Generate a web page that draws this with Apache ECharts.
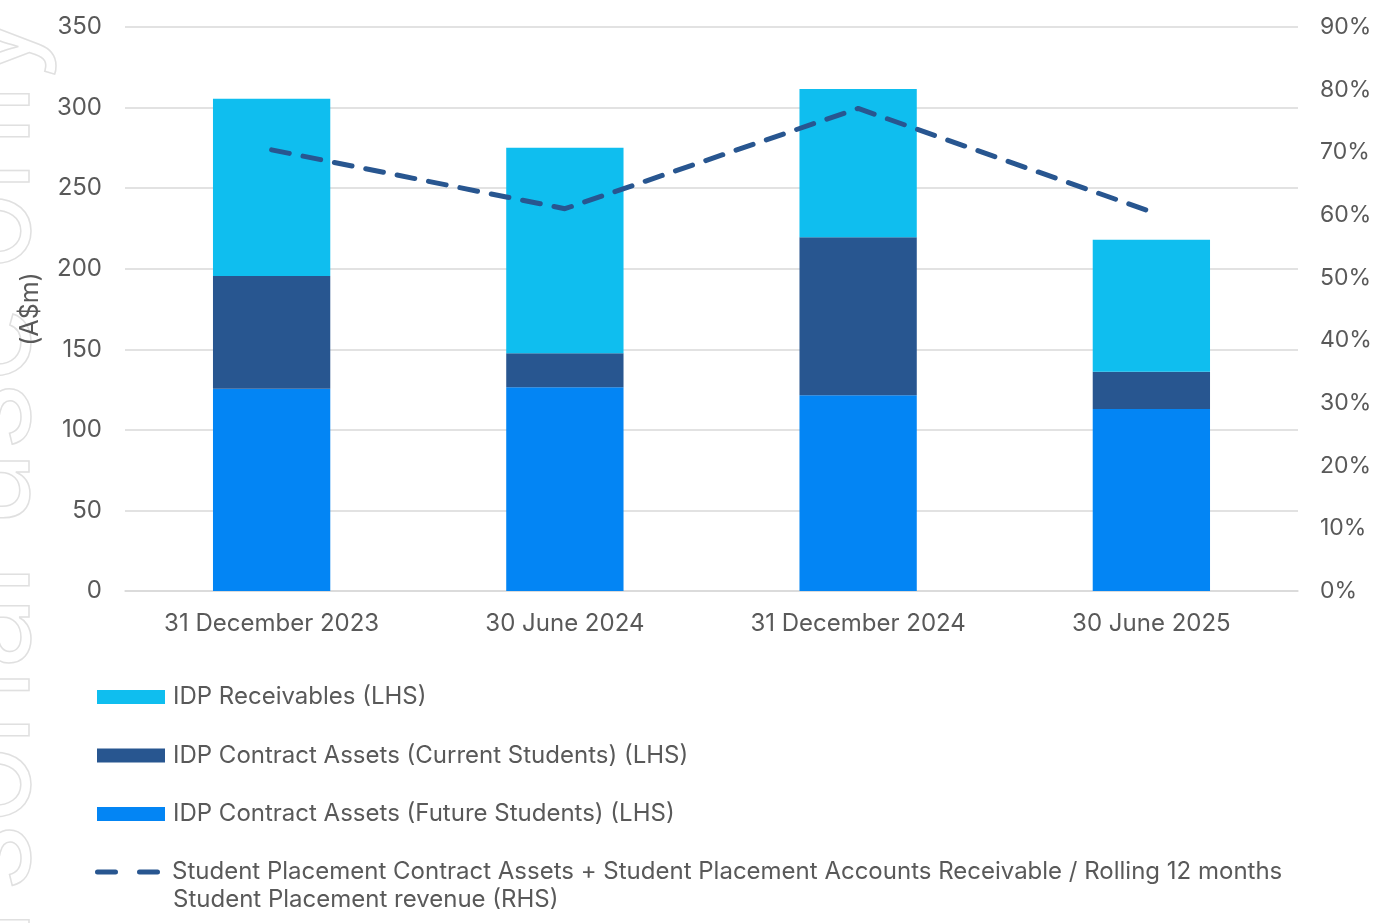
<!DOCTYPE html>
<html>
<head>
<meta charset="utf-8">
<script src="https://cdn.jsdelivr.net/npm/echarts@6/dist/echarts.min.js"></script>
<style>
  html, body { margin: 0; padding: 0; background: #fff; }
  #chart { width: 1383px; height: 923px; }
</style>
</head>
<body>
<div id="chart"></div>
<script>
var categories = ['31 December 2023', '30 June 2024', '31 December 2024', '30 June 2025'];
var futureStudents = [125.5, 126.5, 121.5, 113];
var currentStudents = [70, 21, 98, 23];
var receivables = [110, 127.5, 92, 82];
var placementRatio = [70.4, 61.0, 77.0, 60.5];
var leftTicks = [0, 350, 50];
var rightTicks = [0, 90, 10];

var lineName = 'Student Placement Contract Assets + Student Placement Accounts Receivable / Rolling 12 months Student Placement revenue (RHS)';
var lineLine1 = 'Student Placement Contract Assets + Student Placement Accounts Receivable / Rolling 12 months';
var lineLine2 = 'Student Placement revenue (RHS)';

var font = 'Inter, "Noto Sans", sans-serif';
var grey = '#595959';
// two rounded dashes for the line legend
var dashIcon = 'path://M2.5,0 H20.5 A2.5,2.5 0 0 1 20.5,5 H2.5 A2.5,2.5 0 0 1 2.5,0 Z M44.5,0 H62.5 A2.5,2.5 0 0 1 62.5,5 H44.5 A2.5,2.5 0 0 1 44.5,0 Z';

var myChart = echarts.init(document.getElementById('chart'));
var option = {
    animation: false,
    textStyle: { fontFamily: font },
    grid: { left: 125, right: 85, top: 27, bottom: 332 },
    legend: [{
        orient: 'vertical',
        left: 92,
        top: 680,
        icon: 'rect',
        itemWidth: 68,
        itemHeight: 14,
        itemGap: 34.5,
        textStyle: { color: grey, fontSize: 24, padding: [0, 0, 0, 3] },
        data: ['IDP Receivables (LHS)', 'IDP Contract Assets (Current Students) (LHS)', 'IDP Contract Assets (Future Students) (LHS)']
    }, {
        left: 90,
        top: 855,
        itemWidth: 65,
        itemHeight: 5,
        textStyle: { color: grey, fontSize: 24, padding: [0, 0, 0, 7] },
        formatter: function () { return lineLine1; },
        data: [{ name: lineName, icon: dashIcon, itemStyle: { color: '#285690' } }]
    }],
    graphic: [{
        type: 'text',
        left: 173,
        top: 888,
        style: { text: lineLine2, fill: grey, font: '24px ' + font }
    }, {
        type: 'text',
        x: -10,
        y: 10,
        rotation: Math.PI / 2,
        silent: true,
        z: -10,
        style: {
            text: 'For personal use only',
            align: 'right',
            verticalAlign: 'middle',
            font: '400 130px ' + font,
            fill: 'none',
            stroke: '#e0e0e0',
            lineWidth: 1.5
        }
    }],
    xAxis: {
        type: 'category',
        data: categories,
        axisTick: { show: false },
        axisLine: { lineStyle: { color: '#d9d9d9', width: 1.5 } },
        axisLabel: { color: grey, fontSize: 24, margin: 21 }
    },
    yAxis: [{
        type: 'value',
        min: leftTicks[0],
        max: leftTicks[1],
        interval: leftTicks[2],
        name: '(A$m)',
        nameLocation: 'middle',
        nameGap: 82,
        nameTextStyle: { color: grey, fontSize: 25 },
        axisLabel: { color: grey, fontSize: 24, margin: 23 },
        splitLine: { lineStyle: { color: '#d9d9d9', width: 1.5 } }
    }, {
        type: 'value',
        min: rightTicks[0],
        max: rightTicks[1],
        interval: rightTicks[2],
        position: 'right',
        axisLabel: { color: grey, fontSize: 23, margin: 22, formatter: '{value}%' },
        splitLine: { show: false }
    }],
    series: [{
        name: 'IDP Contract Assets (Future Students) (LHS)',
        type: 'bar',
        stack: 'a',
        barWidth: '40%',
        itemStyle: { color: '#0385F4' },
        data: futureStudents
    }, {
        name: 'IDP Contract Assets (Current Students) (LHS)',
        type: 'bar',
        stack: 'a',
        itemStyle: { color: '#285690' },
        data: currentStudents
    }, {
        name: 'IDP Receivables (LHS)',
        type: 'bar',
        stack: 'a',
        itemStyle: { color: '#0FBEEF' },
        data: receivables
    }, {
        name: lineName,
        type: 'line',
        yAxisIndex: 1,
        symbol: 'none',
        z: 5,
        lineStyle: { color: '#285690', width: 5, type: [18, 14], cap: 'round' },
        itemStyle: { color: '#285690' },
        data: placementRatio
    }]
};
myChart.setOption(option);
</script>
</body>
</html>
